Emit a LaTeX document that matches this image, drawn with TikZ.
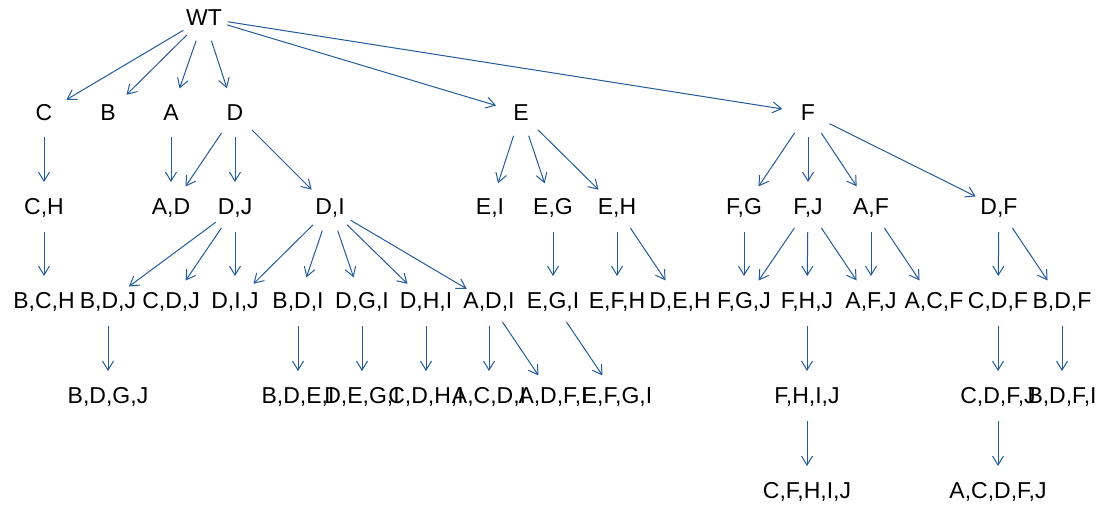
\documentclass[tikz,border=0pt]{standalone}
\usepackage{fontspec}
\setmainfont{Liberation Sans}
\usetikzlibrary{arrows.meta}
\definecolor{linkblue}{RGB}{35,90,155}
\tikzset{
  state/.style={inner sep=0pt, font=\fontsize{11.5}{13}\selectfont},
  link/.style={draw=linkblue, line width=0.5pt, -{Straight Barb[length=4.5pt,width=5.5pt]},
    shorten <=12pt, shorten >=13pt}
}
\begin{document}
\begin{tikzpicture}[x=0.5pt,y=-0.5pt]
            \useasboundingbox (0,0) rectangle (1102,505);
            % Root
            \node[state] (wt) at (204,18) {WT};
            % Single mutants
            \node[state] (c) at (44,113) {C};
            \node[state] (b) at (108,113) {B};
            \node[state] (a) at (171,113) {A};
            \node[state] (d) at (235,113) {D};
            \node[state] (e) at (521,113) {E};
            \node[state] (f) at (808,113) {F};
            % Double mutants
            \node[state] (ch) at (44,208) {C,H};
            \node[state] (ad) at (171,208) {A,D};
            \node[state] (dj) at (235,208) {D,J};
            \node[state] (di) at (330,208) {D,I};
            \node[state] (ei) at (490,208) {E,I};
            \node[state] (eg) at (553,208) {E,G};
            \node[state] (eh) at (617,208) {E,H};
            \node[state] (fg) at (744,208) {F,G};
            \node[state] (fj) at (808,208) {F,J};
            \node[state] (af) at (871,208) {A,F};
            \node[state] (df) at (999,208) {D,F};
            % Triple mutants
            \node[state] (bch) at (44,302) {B,C,H};
            \node[state] (bdj) at (108,302) {B,D,J};
            \node[state] (cdj) at (171,302) {C,D,J};
            \node[state] (dij) at (235,302) {D,I,J};
            \node[state] (bdi) at (298,302) {B,D,I};
            \node[state] (dgi) at (362,302) {D,G,I};
            \node[state] (dhi) at (426,302) {D,H,I};
            \node[state] (adi) at (489,302) {A,D,I};
            \node[state] (egi) at (553,302) {E,G,I};
            \node[state] (efh) at (617,302) {E,F,H};
            \node[state] (deh) at (680,302) {D,E,H};
            \node[state] (fgj) at (744,302) {F,G,J};
            \node[state] (fhj) at (807,302) {F,H,J};
            \node[state] (afj) at (871,302) {A,F,J};
            \node[state] (acf) at (934,302) {A,C,F};
            \node[state] (cdf) at (998,302) {C,D,F};
            \node[state] (bdf) at (1062,302) {B,D,F};
            % Quadruple mutants
            \node[state] (bdgj) at (108,397) {B,D,G,J};
            \node[state] (bdei) at (298,397) {B,D,E,I};
            \node[state] (degi) at (362,397) {D,E,G,I};
            \node[state] (cdhi) at (426,397) {C,D,H,I};
            \node[state] (acdi) at (489,397) {A,C,D,I};
            \node[state] (adfi) at (553,397) {A,D,F,I};
            \node[state] (efgi) at (617,397) {E,F,G,I};
            \node[state] (fhij) at (807,397) {F,H,I,J};
            \node[state] (cdfj) at (998,397) {C,D,F,J};
            \node[state] (bdfi) at (1062,397) {B,D,F,I};
            % Quintuple mutants
            \node[state] (cfhij) at (807,492) {C,F,H,I,J};
            \node[state] (acdfj) at (998,492) {A,C,D,F,J};

            % Arrows
            \foreach \n in {c,b,a,d,e,f}
                \draw[link] (wt.center) -- (\n.center);
            \draw[link] (c.center) -- (ch.center);
            \draw[link] (a.center) -- (ad.center);
            \foreach \n in {ad,dj,di}
                \draw[link] (d.center) -- (\n.center);
            \foreach \n in {ei,eg,eh}
                \draw[link] (e.center) -- (\n.center);
            \foreach \n in {fg,fj,af,df}
                \draw[link] (f.center) -- (\n.center);
            \draw[link] (ch.center) -- (bch.center);
            \foreach \n in {bdj,cdj,dij}
                \draw[link] (dj.center) -- (\n.center);
            \foreach \n in {dij,bdi,dgi,dhi,adi}
                \draw[link] (di.center) -- (\n.center);
            \draw[link] (eg.center) -- (egi.center);
            \foreach \n in {efh,deh}
                \draw[link] (eh.center) -- (\n.center);
            \draw[link] (fg.center) -- (fgj.center);
            \foreach \n in {fgj,fhj,afj}
                \draw[link] (fj.center) -- (\n.center);
            \foreach \n in {afj,acf}
                \draw[link] (af.center) -- (\n.center);
            \foreach \n in {cdf,bdf}
                \draw[link] (df.center) -- (\n.center);
            \draw[link] (bdj.center) -- (bdgj.center);
            \draw[link] (bdi.center) -- (bdei.center);
            \draw[link] (dgi.center) -- (degi.center);
            \draw[link] (dhi.center) -- (cdhi.center);
            \foreach \n in {acdi,adfi}
                \draw[link] (adi.center) -- (\n.center);
            \draw[link] (egi.center) -- (efgi.center);
            \draw[link] (fhj.center) -- (fhij.center);
            \draw[link] (cdf.center) -- (cdfj.center);
            \draw[link] (bdf.center) -- (bdfi.center);
            \draw[link] (fhij.center) -- (cfhij.center);
            \draw[link] (cdfj.center) -- (acdfj.center);

        \end{tikzpicture}
\end{document}
